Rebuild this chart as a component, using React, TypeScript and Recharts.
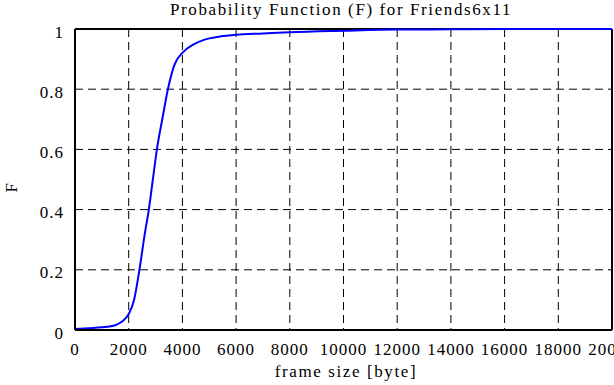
import { LineChart, Line, XAxis, YAxis, CartesianGrid, ReferenceLine } from 'recharts';

// frame size [byte] and cumulative probability F
const frameSize = [
  0, 500, 1000, 1500, 1750, 2000, 2200, 2400, 2600, 2750, 2900, 3050, 3250, 3460, 3700, 4000,
  4400, 4800, 5400, 6000, 7000, 8000, 10000, 12000, 14000, 16000, 18000, 20000,
];
const probF = [
  0.003, 0.006, 0.009, 0.016, 0.028, 0.053, 0.1, 0.2, 0.32, 0.4, 0.5, 0.6, 0.7, 0.8, 0.88, 0.921,
  0.948, 0.964, 0.975, 0.981, 0.985, 0.989, 0.994, 0.998, 0.999, 1, 1, 1,
];
const xTicks = [0, 2000, 4000, 6000, 8000, 10000, 12000, 14000, 16000, 18000, 20000];
const yTicks = [0, 0.2, 0.4, 0.6, 0.8, 1];

const data = frameSize.map((x, i) => ({ x, F: probF[i] }));

const font = "'Times New Roman', 'Liberation Serif', 'DejaVu Serif', serif";
const textStyle = { fontFamily: font, fontSize: 17, letterSpacing: 1.6 };
const tickTextStyle = { fontFamily: font, fontSize: 17, letterSpacing: 1 };

const XTick = ({ x, payload }: any) => (
  <text x={x} y={354.5} textAnchor="middle" fill="#000" style={tickTextStyle}>
    {payload.value}
  </text>
);

const YTick = ({ y, payload }: any) => (
  <text x={64} y={y + 8.6} textAnchor="end" fill="#000" style={tickTextStyle}>
    {payload.value}
  </text>
);

export default function App() {
  return (
    <div style={{ position: 'absolute', left: 0, top: 0, width: 614, height: 385, background: '#fff' }}>
      <svg width={614} height={24} style={{ position: 'absolute', left: 0, top: 0, zIndex: 1 }}>
        <text x={341} y={14.5} textAnchor="middle" fill="#000" style={textStyle}>
          Probability Function (F) for Friends6x11
        </text>
      </svg>
      <LineChart width={614} height={385} data={data} margin={{ top: 29, right: 2, bottom: 0, left: 0 }}>
        <CartesianGrid stroke="#000" strokeDasharray="8 5" strokeWidth={1} />
        <XAxis
          dataKey="x"
          type="number"
          domain={[0, 20000]}
          ticks={xTicks}
          interval={0}
          height={55}
          tickLine={false}
          axisLine={{ stroke: '#000', strokeWidth: 2 }}
          tick={<XTick />}
          label={{
            content: () => (
              <text x={346} y={377} textAnchor="middle" fill="#000" style={textStyle}>
                frame size [byte]
              </text>
            ),
          }}
        />
        <YAxis
          type="number"
          domain={[0, 1]}
          ticks={yTicks}
          interval={0}
          width={75}
          tickLine={false}
          axisLine={{ stroke: '#000', strokeWidth: 2 }}
          tick={<YTick />}
          label={{
            content: () => (
              <text
                x={11}
                y={187}
                transform="rotate(-90 11 187)"
                textAnchor="middle"
                dominantBaseline="central"
                fill="#000"
                style={textStyle}
              >
                F
              </text>
            ),
          }}
        />
        <ReferenceLine y={1} stroke="#000" strokeWidth={2} />
        <ReferenceLine x={20000} stroke="#000" strokeWidth={2} />
        <Line
          type="monotone"
          dataKey="F"
          stroke="#0000ff"
          strokeWidth={2}
          dot={false}
          isAnimationActive={false}
        />
      </LineChart>
    </div>
  );
}
